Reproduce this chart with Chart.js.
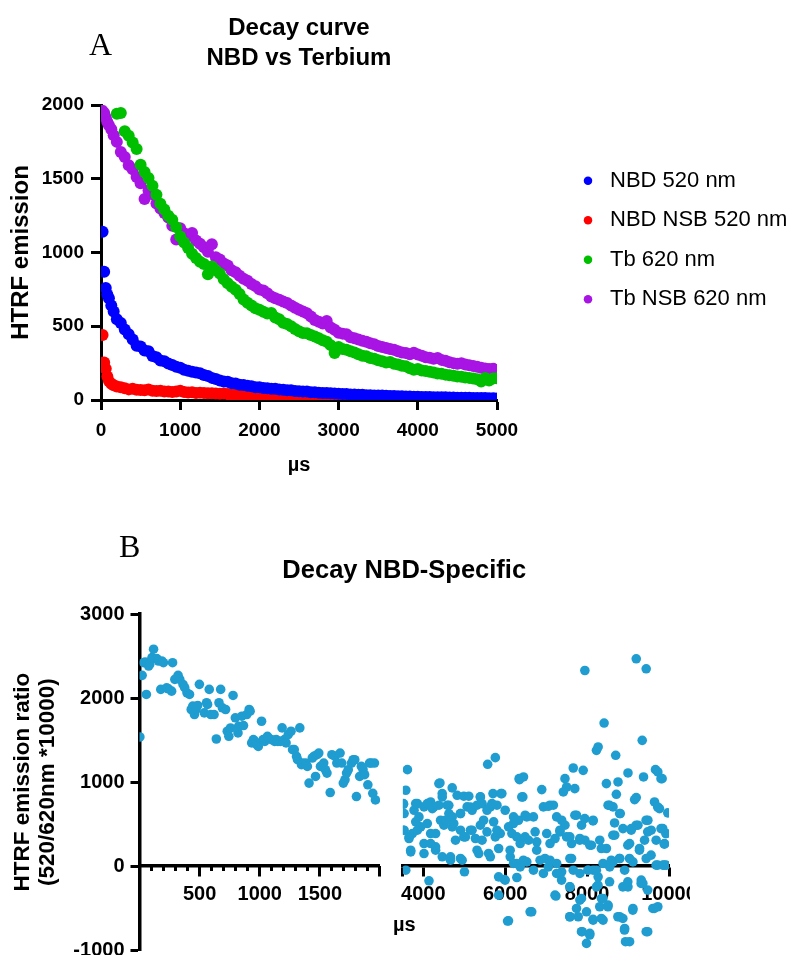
<!DOCTYPE html>
<html>
<head>
<meta charset="utf-8">
<title>Decay curves</title>
<script src="https://cdn.jsdelivr.net/npm/chart.js@4.4.1/dist/chart.umd.min.js"></script>
<style>
  html, body { margin: 0; padding: 0; background: #fff; }
  #page { position: relative; width: 790px; height: 955px; overflow: hidden; }
  #wrapA { position: absolute; left: 0; top: 0; width: 790px; height: 480px; overflow: hidden; }
  #wrapB { position: absolute; left: 0; top: 520px; width: 690px; height: 435px; overflow: hidden; }
  canvas { display: block; }
  .panel { position: absolute; font-family: 'Liberation Serif', 'Times New Roman', serif; font-size: 32px; line-height: 32px; color: #000; }
</style>
</head>
<body>
<div id="page">
  <div id="wrapA"><canvas id="chartA" width="790" height="480"></canvas></div>
  <div id="wrapB"><canvas id="chartB" width="790" height="435"></canvas></div>
  <div class="panel" style="left:89px; top:28px">A</div>
  <div class="panel" style="left:119px; top:530px">B</div>
</div>
<script>
// ---- panel A: raw emission decays, µs ----
const timeUs = [20, 40, 60, 80, 100, 130, 160, 200, 250, 300,
  350, 400, 450, 500, 550, 600, 650, 700, 750, 800,
  850, 900, 950, 1000, 1050, 1100, 1150, 1200, 1250, 1300,
  1350, 1400, 1450, 1500, 1550, 1600, 1650, 1700, 1750, 1800,
  1850, 1900, 1950, 2000, 2050, 2100, 2150, 2200, 2250, 2300,
  2350, 2400, 2450, 2500, 2550, 2600, 2650, 2700, 2750, 2800,
  2850, 2900, 2950, 3000, 3050, 3100, 3150, 3200, 3250, 3300,
  3350, 3400, 3450, 3500, 3550, 3600, 3650, 3700, 3750, 3800,
  3850, 3900, 3950, 4000, 4050, 4100, 4150, 4200, 4250, 4300,
  4350, 4400, 4450, 4500, 4550, 4600, 4650, 4700, 4750, 4800,
  4850, 4900, 4950, 5000];

const nbd520 = [1140, 870, 760, 715, 690, 640, 600, 548, 522, 478,
  445, 410, 368, 362, 335, 330, 298, 290, 268, 262,
  248, 238, 226, 218, 205, 198, 192, 186, 182, 170,
  162, 150, 142, 133, 126, 124, 114, 112, 104, 101,
  96, 93, 87, 86, 81, 80, 77, 76, 71, 70,
  66, 66, 61, 60, 57, 57, 53, 53, 49, 48,
  47, 45, 44, 43, 41, 41, 38, 38, 36, 35,
  33, 33, 31, 30, 30, 28, 27, 27, 25, 25,
  24, 24, 22, 22, 21, 21, 20, 19, 19, 18,
  18, 17, 17, 16, 16, 15, 15, 14, 14, 13,
  13, 12, 12, 11];

const nbdNsb520 = [440, 255, 212, 160, 128, 110, 100, 92, 86, 80,
  72, 76, 70, 68, 66, 71, 62, 61, 63, 58,
  57, 55, 58, 62, 54, 51, 53, 48, 50, 47,
  45, 46, 44, 42, 44, 40, 38, 40, 36, 35,
  34, 36, 32, 30, 28, 26, 25, 22, 20, 19,
  17, 15, 14, 12, 11, 10, 9, 8, 8, 6,
  6, 5, 4, 4, 3, 2, 2, 1, 0, -1,
  -2, 0, -1, -3, -2, -1, -3, -2, -4, -2,
  -3, -1, -3, -4, -2, -3, -4, -2, -3, -5,
  -3, -4, -2, -5, -3, -4, -3, -5, -4, -3,
  -4, -5, -3, -4];

const tb620 = [null, null, null, null, null, null, null, 1940, 1945, 1822,
  1792, 1745, 1702, 1595, 1545, 1505, 1452, 1392, 1330, 1292,
  1250, 1222, 1172, 1108, 1068, 1030, 992, 962, 938, 922,
  852, 905, 880, 858, 818, 792, 768, 748, 718, 682,
  660, 640, 622, 612, 598, 586, 590, 560, 548, 524,
  515, 500, 482, 466, 455, 452, 440, 430, 418, 405,
  395, 372, 318, 360, 346, 340, 330, 322, 310, 300,
  296, 285, 280, 270, 262, 255, 258, 246, 240, 232,
  228, 216, 205, 210, 200, 196, 192, 186, 180, 178,
  172, 168, 165, 160, 158, 152, 150, 145, 140, 126,
  150, 132, 145, 148];

const tbNsb620 = [1960, 1945, 1915, 1885, 1862, 1835, 1795, 1750, 1682, 1648,
  1592, 1565, 1512, 1470, 1362, 1420, 1395, 1332, 1298, 1268,
  1238, 1182, 1088, 1165, 1130, 1112, 1132, 1082, 1060, 1035,
  1005, 1056, 968, 952, 925, 912, 880, 866, 842, 822,
  808, 786, 772, 750, 742, 724, 702, 690, 680, 668,
  658, 640, 626, 612, 600, 588, 566, 542, 530, 518,
  536, 492, 476, 456, 450, 445, 426, 418, 410, 402,
  395, 385, 378, 366, 360, 352, 345, 340, 330, 322,
  318, 310, 320, 308, 300, 290, 286, 280, 284, 272,
  266, 256, 250, 246, 250, 240, 236, 230, 226, 218,
  214, 210, 212, 202];

const seriesNames = ['NBD 520 nm', 'NBD NSB 520 nm', 'Tb 620 nm', 'Tb NSB 620 nm'];
const seriesColors = ['#0000ff', '#ff0000', '#00be00', '#a814e4'];
const seriesValues = [nbd520, nbdNsb520, tb620, tbNsb620];

// ---- panel B: specific ratio, early and late windows ([µs, ratio]) ----
const ratioEarly = [[3, 1537], [22, 2270], [35, 2422], [49, 2429], [57, 2043], [76, 2381], [85, 2400],
  [104, 2481], [117, 2581], [144, 2470], [158, 2441], [177, 2103], [185, 2441], [199, 2421],
  [226, 2122], [240, 2110], [267, 2082], [275, 2421], [294, 2222], [321, 2270], [335, 2222],
  [362, 2162], [376, 2123], [395, 2062], [416, 2043], [430, 1864], [443, 1904], [457, 1804],
  [470, 1864], [484, 1912], [498, 2163], [539, 1824], [558, 1944], [566, 1924], [580, 2103],
  [593, 1804], [620, 1804], [639, 1513], [661, 1944], [675, 2103], [689, 1884], [716, 1864],
  [730, 1605], [743, 1545], [757, 1644], [778, 2031], [797, 1765], [819, 1585], [825, 1665],
  [851, 1784], [865, 1673], [892, 1804], [912, 1864], [920, 1844], [933, 1466], [947, 1505],
  [961, 1485], [975, 1445], [988, 1425], [1015, 1724], [1028, 1505], [1042, 1485], [1064, 1545],
  [1069, 1525], [1097, 1505], [1124, 1485], [1137, 1505], [1151, 1485], [1172, 1485], [1186, 1645],
  [1205, 1505], [1219, 1466], [1237, 1565], [1260, 1605], [1273, 1386], [1287, 1386], [1306, 1306],
  [1314, 1267], [1333, 1645], [1347, 1207], [1355, 1227], [1382, 1227], [1396, 1187], [1410, 988],
  [1437, 1287], [1450, 1306], [1464, 1067], [1477, 1326], [1491, 1346], [1505, 1187], [1532, 1227],
  [1546, 1147], [1559, 1107], [1586, 876], [1600, 1326], [1627, 1306], [1641, 1227], [1668, 1346],
  [1682, 1227], [1695, 988], [1709, 1028], [1722, 1107], [1736, 1147], [1763, 1227], [1777, 1266],
  [1790, 1266], [1804, 828], [1831, 1067], [1845, 1187], [1859, 1147], [1872, 1088], [1899, 968],
  [1913, 1227], [1927, 1227], [1940, 867], [1954, 1227], [1962, 788]];

const ratioLate = [[7945, 2328], [9200, 2467], [9443, 2348], [8415, 1703], [9346, 1497], [8228, 1378],
  [8269, 1418], [8698, 1319], [5571, 1212], [5758, 1291], [3611, 1148], [7661, 1168], [7904, 1140],
  [8998, 1109], [9670, 1148], [9727, 1121], [9832, 1041], [9378, 1061], [6349, 1030], [6446, 1061],
  [7459, 1041], [8471, 982], [8755, 1002], [4405, 990], [4705, 931], [3571, 903], [6892, 911],
  [7500, 942], [7419, 883], [6430, 824], [8714, 855], [9200, 816], [9160, 792], [4462, 824],
  [4826, 843], [4988, 832], [5110, 832], [5393, 824], [5701, 863], [5895, 863],
  [3514, 744], [3530, 626], [3854, 744], [3773, 665], [4016, 705], [4178, 764], [4259, 705],
  [4381, 725], [4583, 725], [4624, 626], [4705, 586], [4907, 626], [5069, 705], [5191, 665],
  [5312, 725], [5434, 744], [5555, 665], [5636, 705], [5798, 725], [5999, 665], [6203, 586],
  [6324, 546], [6487, 606], [6689, 586], [6932, 705], [7094, 725], [7175, 725], [7256, 586],
  [7378, 546], [7459, 487], [7702, 606], [7864, 487], [8147, 546], [8512, 725], [8633, 705],
  [8795, 626], [9079, 447], [9241, 487], [9484, 546], [9646, 764], [9767, 685], [9970, 634],
  [9848, 447], [9929, 388],
  [3530, 428], [3652, 348], [3733, 388], [3814, 527], [3935, 467], [4097, 507], [4300, 388],
  [4178, 269], [4421, 546], [4502, 487], [4705, 467], [4786, 309], [4907, 428], [4988, 348],
  [5150, 428], [5272, 329], [5393, 487], [5434, 309], [5555, 408], [5717, 527], [5758, 348],
  [5879, 388], [6082, 467], [6163, 388], [6284, 348], [6365, 269], [6568, 309], [6730, 408],
  [6770, 289], [7013, 388], [7094, 269], [7216, 329], [7337, 408], [7499, 348], [7621, 269],
  [7823, 329], [7945, 309], [8066, 249], [8309, 309], [8471, 210], [8674, 368], [8876, 447],
  [9038, 269], [9281, 210], [9403, 309], [9565, 428], [9686, 309], [9888, 269],
  [3692, 170], [4016, 150], [4300, 190], [4462, 111], [4664, 71], [4907, 91], [5353, 150],
  [5636, 111], [5839, 210], [6122, 111], [6203, 32], [6365, -8], [6527, 51], [6689, -48],
  [6851, 71], [6932, -87], [7054, -8], [7256, 32], [7378, -67], [7580, 91], [7661, -48],
  [7823, -87], [8026, -48], [8147, -48], [8269, -127], [8390, 32], [8552, -8], [8633, 51],
  [8795, 91], [8917, -48], [9119, 51], [9322, -166], [9443, 91], [9686, 12], [9848, 12], [9929, 12],
  [3571, -48], [4138, -174], [5004, -67], [5839, -127], [5977, -158], [6284, -135], [7216, -345],
  [5839, -345], [6608, -543], [6057, -653], [7580, -246], [7823, -404], [7985, -543], [8228, -246],
  [8350, -384], [8147, -642], [8390, -642], [8512, -463], [8795, -602], [8998, -246], [8917, -741],
  [9119, -503], [9362, -206], [9605, -503], [9727, -483], [9443, -780], [7880, -780], [8066, -800],
  [7985, -919], [9038, -899], [7580, -602], [7783, -602], [8309, -483],
  [3515, 736], [3505, 428], [3650, 329], [3691, 190], [3813, 745], [3893, 586], [3854, 428],
  [4016, 269], [4097, 745], [4219, 685], [4178, 388], [4299, 229], [4380, 982], [4461, 863],
  [4542, 546], [4622, 724], [4663, 111], [4743, 507], [4906, 626], [4947, 71], [5027, 348],
  [5149, 704], [5190, 428], [5312, 190], [5392, 823], [5472, 546], [5594, 151], [5676, 745],
  [5797, 428], [5918, 863], [6120, 190], [6201, 507], [6283, 32], [6339, 1041], [6405, 823],
  [6485, 348], [6444, 71], [6526, 586], [5999, -166], [6080, -650], [6647, -543],
  [9805, 1041], [7699, 922], [7051, 712], [8549, 724], [9723, 704], [8809, 626], [7741, 606],
  [7942, 566], [8144, 538], [8671, 514], [9441, 546], [9198, 487], [9077, 428], [9480, 408],
  [9805, 447], [9927, 388], [9886, 261], [7335, 428], [7578, 348], [7820, 309], [8105, 249],
  [8348, 210], [8630, 368], [8994, 249], [9278, 190], [9562, 131], [9723, 12], [9885, 12],
  [8590, 71], [8792, 91], [9035, 91], [6769, 190], [6971, 91], [7092, 71], [7619, 91],
  [8022, -48], [8226, -48], [7255, -87], [7376, -166], [7578, -246], [7238, -356], [7862, -384],
  [8266, -226], [8387, -384], [8549, -186], [8873, -246], [8994, -186], [9319, -206], [9480, -285],
  [9643, -503], [7741, -503], [8509, -483], [9116, -523], [7578, -602], [8144, -633], [8348, -622],
  [8751, -602], [8873, -622], [8913, -760], [7862, -780], [8064, -820], [8938, -899], [9480, -780]];

// tick positions and labels of the broken x axis
const earlyTicks = [0, 500, 1000, 1500, 2000];
const earlyLabels = ['', '500', '1000', '1500', ''];
const lateTicks = [3500, 4000, 6000, 8000, 10000];
const lateLabels = ['', '4000', '6000', '8000', '10000'];

const ratioColor = '#1f9dd0';

Chart.defaults.font.family = "'Liberation Sans', Arial, sans-serif";
Chart.defaults.color = '#000';

const bold = (size) => ({ size: size, weight: 'bold' });
const plainTicks = (v) => String(v);

// ---------------- chart A ----------------
new Chart(document.getElementById('chartA'), {
  type: 'scatter',
  data: {
    datasets: seriesValues.map((vals, i) => ({
      label: seriesNames[i],
      data: timeUs.map((t, j) => ({ x: t, y: vals[j] })),
      backgroundColor: seriesColors[i],
      borderWidth: 0,
      pointRadius: 6,
      pointHoverRadius: 6,
      pointStyle: 'circle'
    }))
  },
  options: {
    responsive: false,
    animation: false,
    events: [],
    layout: { padding: { left: 0, right: 0, top: 0, bottom: 0 } },
    plugins: {
      title: {
        display: true,
        text: ['Decay curve', 'NBD vs Terbium'],
        fullSize: false,
        color: '#000',
        font: { size: 24, weight: 'bold', lineHeight: 30 / 24 },
        padding: { top: 13, bottom: 32 }
      },
      legend: {
        position: 'right',
        maxWidth: 230.5,
        labels: {
          usePointStyle: true,
          pointStyle: 'circle',
          boxHeight: 6,
          padding: 17.5,
          color: '#000',
          font: { size: 22 }
        }
      },
      tooltip: { enabled: false }
    },
    scales: {
      x: {
        type: 'linear', min: 0, max: 5000,
        ticks: { stepSize: 1000, padding: 9, maxRotation: 0, font: bold(19), color: '#000', callback: plainTicks },
        grid: { drawOnChartArea: false, tickLength: 10, tickWidth: 3, tickColor: '#000' },
        border: { color: '#000', width: 3 },
        title: { display: true, text: 'µs', color: '#000', font: bold(20), padding: { top: 0, bottom: 3 } },
        afterFit: (s) => { s.height = 80; }
      },
      y: {
        type: 'linear', min: 0, max: 2000,
        ticks: { stepSize: 500, padding: 7, font: bold(19), color: '#000', callback: plainTicks },
        grid: { drawOnChartArea: false, tickLength: 10, tickWidth: 3, tickColor: '#000' },
        border: { color: '#000', width: 3 },
        title: { display: true, text: 'HTRF emission', color: '#000', font: { size: 24, weight: 'bold', lineHeight: 1.1 }, padding: { top: 8, bottom: 0 } },
        afterFit: (s) => { s.width = 101; }
      },
      // empty axis that keeps the legend away from the plot
      gap: {
        type: 'linear', axis: 'y', position: 'right',
        grid: { display: false, drawTicks: false },
        border: { display: false },
        ticks: { display: false },
        afterFit: (s) => { s.width = 62.5; }
      }
    }
  }
});

// ---------------- chart B ----------------
// share of the plot width used by each x segment
const SEG_EARLY = [0, 0.4542];
const SEG_LATE = [0.4974, 1];

const brokenAxis = {
  id: 'brokenAxis',
  afterLayout(chart) {
    const area = chart.chartArea;
    const w = area.right - area.left;
    const place = (scale, seg) => {
      scale.left = area.left + w * seg[0];
      scale.right = area.left + w * seg[1];
      scale.width = scale.right - scale.left;
      scale.configure();
    };
    place(chart.scales.xEarly, SEG_EARLY);
    place(chart.scales.xMinor, SEG_EARLY);
    place(chart.scales.xLate, SEG_LATE);
  }
};

const segmentAxis = (min, max, values, labels) => ({
  type: 'linear', axis: 'x', position: { y: 0 }, min: min, max: max,
  afterBuildTicks: (s) => { s.ticks = values.map((v) => ({ value: v })); },
  ticks: { autoSkip: false, maxRotation: 0, padding: 7, font: bold(20), color: '#000',
    callback: (v, i) => labels[i] },
  grid: { drawOnChartArea: false, tickLength: 9, tickWidth: 3, tickColor: '#000' },
  border: { color: '#000', width: 3.5 }
});

new Chart(document.getElementById('chartB'), {
  type: 'scatter',
  data: {
    datasets: [
      {
        label: 'early',
        xAxisID: 'xEarly',
        data: ratioEarly.map((p) => ({ x: p[0], y: p[1] })),
        backgroundColor: ratioColor, borderWidth: 0, pointRadius: 4.8, pointHoverRadius: 4.8
      },
      {
        label: 'late',
        xAxisID: 'xLate',
        data: ratioLate.map((p) => ({ x: p[0], y: p[1] })),
        backgroundColor: ratioColor, borderWidth: 0, pointRadius: 4.8, pointHoverRadius: 4.8
      }
    ]
  },
  options: {
    responsive: false,
    animation: false,
    events: [],
    layout: { padding: { left: 0, right: 121, top: 0, bottom: 4.3 } },
    plugins: {
      title: {
        display: true,
        text: 'Decay NBD-Specific',
        fullSize: false,
        color: '#000',
        font: { size: 25.5, weight: 'bold', lineHeight: 1.13 },
        padding: { top: 36.6, bottom: 28.6 }
      },
      legend: { display: false },
      tooltip: { enabled: false }
    },
    scales: {
      y: {
        type: 'linear', min: -1000, max: 3000,
        ticks: { stepSize: 1000, padding: 6, font: bold(20), color: '#000', callback: plainTicks },
        grid: { drawOnChartArea: false, tickLength: 9, tickWidth: 3, tickColor: '#000' },
        border: { color: '#000', width: 3.5 },
        title: {
          display: true,
          text: ['HTRF emission ratio', '(520/620nm *10000)'],
          color: '#000',
          font: { size: 22.5, weight: 'bold', lineHeight: 25 / 22.5 },
          padding: { top: 10.5, bottom: 0 }
        },
        afterFit: (s) => { s.width = 139.5; s.paddingTop = 0; s.paddingBottom = 0; }
      },
      xEarly: segmentAxis(0, 2000, earlyTicks, earlyLabels),
      xLate: segmentAxis(3500, 10000, lateTicks, lateLabels),
      // 100 µs minor ticks on the early segment
      xMinor: {
        type: 'linear', axis: 'x', position: { y: 0 }, min: 0, max: 2000,
        ticks: { display: false, stepSize: 100 },
        grid: { drawOnChartArea: false, tickLength: 5, tickWidth: 3, tickColor: '#000' },
        border: { display: false }
      },
      // carries only the axis title, centred under both segments
      xTitle: {
        type: 'linear', axis: 'x', position: { y: 0 }, min: 0, max: 1,
        ticks: { display: false },
        grid: { display: false, drawTicks: false },
        border: { display: false },
        title: { display: true, text: 'µs', color: '#000', font: bold(20), padding: { top: 47, bottom: 0 } }
      }
    }
  },
  plugins: [brokenAxis]
});
</script>
</body>
</html>
